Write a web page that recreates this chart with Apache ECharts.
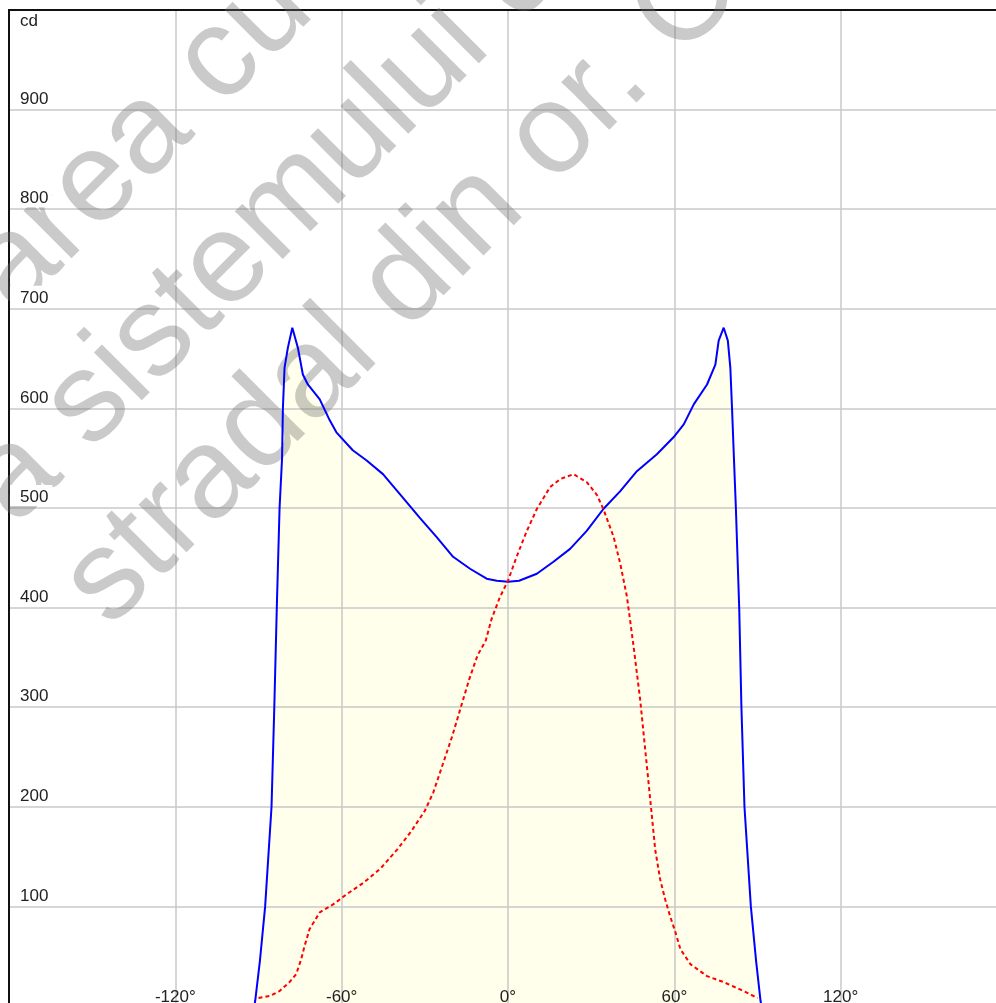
<!DOCTYPE html>
<html><head><meta charset="utf-8">
<script src="https://cdn.jsdelivr.net/npm/echarts@6/dist/echarts.min.js"></script>
<style>html,body{margin:0;padding:0;background:#fff;}#c{width:996px;height:1003px;}</style>
</head><body><div id="c"></div>
<script>
// ---- data ----
const unitLabel = 'cd';
const watermarkLines = ['area cu', 'a sistemului de', 'stradal din or. C'];

// C0-C180 plane (solid blue, filled)
const blueAngles = [-91.5,-91.2,-89.5,-87.6,-85.3,-84.3,-83.4,-82.4,-81.5,-81.2,
  -80.6,-79.4,-77.8,-75.8,-74,-72.2,-67.9,-64.3,-61.9,-56,
  -51.1,-45.1,-39,-31.8,-25.8,-19.8,-13.7,-7.7,-4,0,
  4,10.4,16.4,22.4,28.4,34.4,40.5,46.5,53.7,59.7,
  63.4,67,71.8,74.8,76,77.8,79.3,80.2,80.8,81.5,
  82.2,83.4,84.2,85.3,87.6,89.5,91.1,91.5];
const blueValues = [0,5,45,100,200,300,400,500,550,600,
  641,661,681,661,634,624,609,588,576,558,
  548,534,514,490,471,451,439,429,427,426,
  427,434,446,459,477,499,517,537,554,571,
  584,604,624,644,668,681,668,641,601,550,
  500,400,300,200,100,45,5,0];

// C90-C270 plane (dashed red)
const redAngles = [-90,-86,-82.4,-78.8,-76.4,-74.6,-73.4,-71.6,-67.9,-63.1,
  -58.3,-52,-46,-40,-35,-30,-27,-23,-20,-17,
  -14,-11,-8,-6,-3,0,3.1,6.8,10.4,15.2,
  18.8,23.6,28.4,32.1,34.4,38.1,40.5,42.9,45.3,47.7,
  50.6,53.1,54.9,56.7,58.5,60.4,62.2,65.8,71.8,77.8,
  85,90];
const redValues = [8,10,15,24,32,47,60,77,94,102,
  112,124,138,157,175,196,214,247,272,300,
  328,352,367,388,410,427,451,477,499,521,
  529,534,526,513,499,471,444,411,361,307,
  227,157,127,107,90,74,57,42,30,24,
  15,8];

// ---- chart ----
const bluePts = blueAngles.map((a, i) => [a, blueValues[i]]);
const redPts = redAngles.map((a, i) => [a, redValues[i]]);
const FONT = 'Liberation Sans';

const chart = echarts.init(document.getElementById('c'), null, {renderer: 'canvas'});
const gridAxisX = {type: 'value', min: -180, max: 180, interval: 60, position: 'bottom'};
const gridAxisY = {type: 'value', min: 0, max: 1000, interval: 100, position: 'left'};

const wmPos = [[-10, 290], [-10, 502], [85, 604]];

chart.setOption({
  animation: false,
  backgroundColor: '#ffffff',
  grid: {left: 9, top: 10, right: -11, bottom: -3, outerBoundsMode: 'none', show: true, z: 2,
    borderColor: '#111', borderWidth: 2, backgroundColor: 'transparent', containLabel: false},
  xAxis: [
    Object.assign({}, gridAxisX, {z: 1, axisLine: {show: false}, axisTick: {show: false}, axisLabel: {show: false},
      splitLine: {show: true, lineStyle: {color: '#c8c8c8', width: 1.5}}}),
    Object.assign({}, gridAxisX, {z: 5, axisLine: {show: false}, axisTick: {show: false}, splitLine: {show: false},
      axisLabel: {inside: true, margin: 0, showMinLabel: false, showMaxLabel: false,
        formatter: v => v + '°', fontSize: 17, fontFamily: FONT, color: '#222', verticalAlign: 'bottom'}})
  ],
  yAxis: [
    Object.assign({}, gridAxisY, {z: 1, axisLine: {show: false}, axisTick: {show: false}, axisLabel: {show: false},
      splitLine: {show: true, lineStyle: {color: '#c8c8c8', width: 1.5}}}),
    Object.assign({}, gridAxisY, {z: 5, axisLine: {show: false}, axisTick: {show: false}, splitLine: {show: false},
      axisLabel: {inside: true, margin: 1, showMinLabel: false, showMaxLabel: false,
        formatter: v => '{b|' + v + '}', verticalAlign: 'bottom', padding: [0, 0, 2, 0],
        rich: {b: {fontSize: 17, fontFamily: FONT, color: '#222', backgroundColor: '#ffffff', padding: [4, 4, 0, 10]}}}})
  ],
  graphic: {elements: watermarkLines.map((t, i) => ({
    type: 'text', x: wmPos[i][0], y: wmPos[i][1], rotation: Math.PI / 4, z: 3, silent: true,
    style: {text: t, fontSize: 128, fontFamily: FONT, fill: 'rgba(110,110,110,0.37)', align: 'left', verticalAlign: 'middle'}
  })).concat([{
    type: 'text', x: 20, y: 13, z: 5, silent: true,
    style: {text: unitLabel, fontSize: 17, fontFamily: FONT, fill: '#222', align: 'left', verticalAlign: 'top'}
  }])},
  series: [
    {type: 'line', name: 'fill', data: bluePts, xAxisIndex: 0, yAxisIndex: 0, z: 0, symbol: 'none', silent: true,
      lineStyle: {width: 0}, areaStyle: {color: '#ffffeb', opacity: 1}},
    {type: 'line', name: 'C0-C180', data: bluePts, xAxisIndex: 0, yAxisIndex: 0, z: 4, symbol: 'none',
      lineStyle: {color: '#0000ff', width: 2}},
    {type: 'line', name: 'C90-C270', data: redPts, xAxisIndex: 0, yAxisIndex: 0, z: 4, symbol: 'none',
      lineStyle: {color: '#ff0000', width: 2, type: [4, 3]}}
  ]
});
</script>
</body></html>
